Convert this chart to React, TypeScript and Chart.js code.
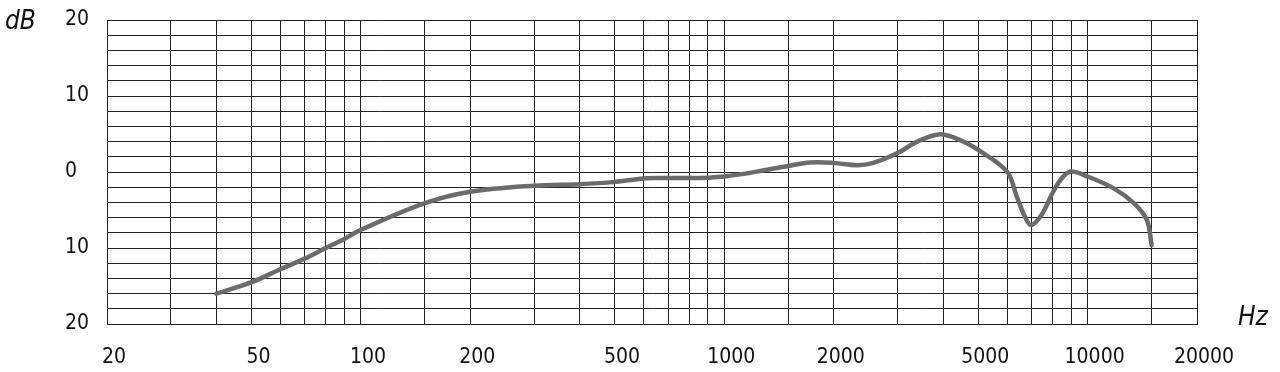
import React, { useEffect, useRef } from "react";
import { Chart, registerables } from "chart.js";

Chart.register(...registerables);

const freqs = [40, 50, 60, 70, 80, 90, 100, 150, 200, 300, 400, 500, 600, 700, 800, 900, 1000, 1230, 1500, 1720, 2000, 2320, 2570, 3000, 3400, 3900, 4460, 5000, 6000, 6390, 6740, 7000, 7480, 8000, 8500, 9000, 10000, 11800, 13400, 14550, 15000];
const levels = [-16.0, -14.5, -12.8, -11.4, -10.0, -8.8, -7.6, -4.1, -2.6, -1.8, -1.6, -1.3, -0.85, -0.8, -0.8, -0.75, -0.6, 0.05, 0.8, 1.25, 1.2, 0.9, 1.2, 2.5, 4.0, 4.95, 4.2, 2.9, 0.05, -3.3, -6.0, -7.0, -5.6, -2.8, -0.8, 0.05, -0.6, -2.15, -4.1, -6.3, -9.6];

const xGrid = [20, 30, 40, 50, 60, 70, 80, 90, 100, 150, 200, 300, 400, 500, 600, 700, 800, 900, 1000, 1500, 2000, 3000, 4000, 5000, 6000, 7000, 8000, 9000, 10000, 15000, 20000];
const xLabels = [20, 50, 100, 200, 500, 1000, 2000, 5000, 10000, 20000];
const yLabels = [20, 10, 0, -10, -20];

const FONT = "'Liberation Sans Narrow', 'DejaVu Sans Condensed', 'Arial Narrow', sans-serif";
const GRID = "#222";

export default function App() {
  const ref = useRef<HTMLCanvasElement | null>(null);

  useEffect(() => {
    if (!ref.current) return;
    const titles = {
      id: "unitTitles",
      afterDraw(chart: any) {
        const ctx = chart.ctx;
        ctx.save();
        ctx.fillStyle = "#111";
        ctx.font = `italic 300 26px ${FONT}`;
        ctx.textBaseline = "alphabetic";
        ctx.textAlign = "left";
        ctx.fillText("dB", 5, 29);
        ctx.fillText("Hz", 1238, 325);
        ctx.restore();
      },
    };
    const chart = new Chart(ref.current, {
      type: "line",
      data: {
        datasets: [
          {
            data: freqs.map((f, i) => ({ x: f, y: levels[i] })),
            borderColor: "#6b6b6b",
            borderWidth: 4.5,
            pointRadius: 0,
            fill: false,
            tension: 0.35,
            borderCapStyle: "round",
            borderJoinStyle: "round",
          },
        ],
      },
      options: {
        responsive: false,
        animation: false,
        layout: { padding: { left: 65, top: 20, right: 83, bottom: 0 } },
        plugins: { legend: { display: false }, tooltip: { enabled: false } },
        scales: {
          x: {
            type: "logarithmic",
            min: 20,
            max: 20000,
            afterBuildTicks: (s: any) => {
              s.ticks = xGrid.map((v) => ({ value: v }));
            },
            afterFit: (s: any) => {
              s.height = 48;
            },
            grid: { color: GRID, lineWidth: 1, drawTicks: false },
            border: { color: GRID, width: 1 },
            ticks: {
              autoSkip: false,
              maxRotation: 0,
              padding: 21,
              labelOffset: 7,
              color: "#111",
              font: { family: FONT, size: 21 },
              callback: (v: any) => (xLabels.includes(Number(v)) ? String(v) : ""),
            },
          },
          y: {
            min: -20,
            max: 20,
            afterBuildTicks: (s: any) => {
              const t = [];
              for (let v = -20; v <= 20; v += 2) t.push({ value: v });
              s.ticks = t;
            },
            afterFit: (s: any) => {
              s.width = 42;
            },
            grid: { color: GRID, lineWidth: 1, drawTicks: false },
            border: { color: GRID, width: 1 },
            ticks: {
              autoSkip: false,
              crossAlign: "far",
              padding: 0,
              color: "#111",
              font: { family: FONT, size: 21 },
              callback: (v: any) => (yLabels.includes(Number(v)) ? String(Math.abs(Number(v))) : ""),
            },
          },
        },
      },
      plugins: [titles],
    });
    return () => chart.destroy();
  }, []);

  return (
    <div style={{ position: "fixed", left: 0, top: 0, width: 1280, height: 372, background: "#fff" }}>
      <canvas ref={ref} width={1280} height={372} style={{ display: "block" }} />
    </div>
  );
}
